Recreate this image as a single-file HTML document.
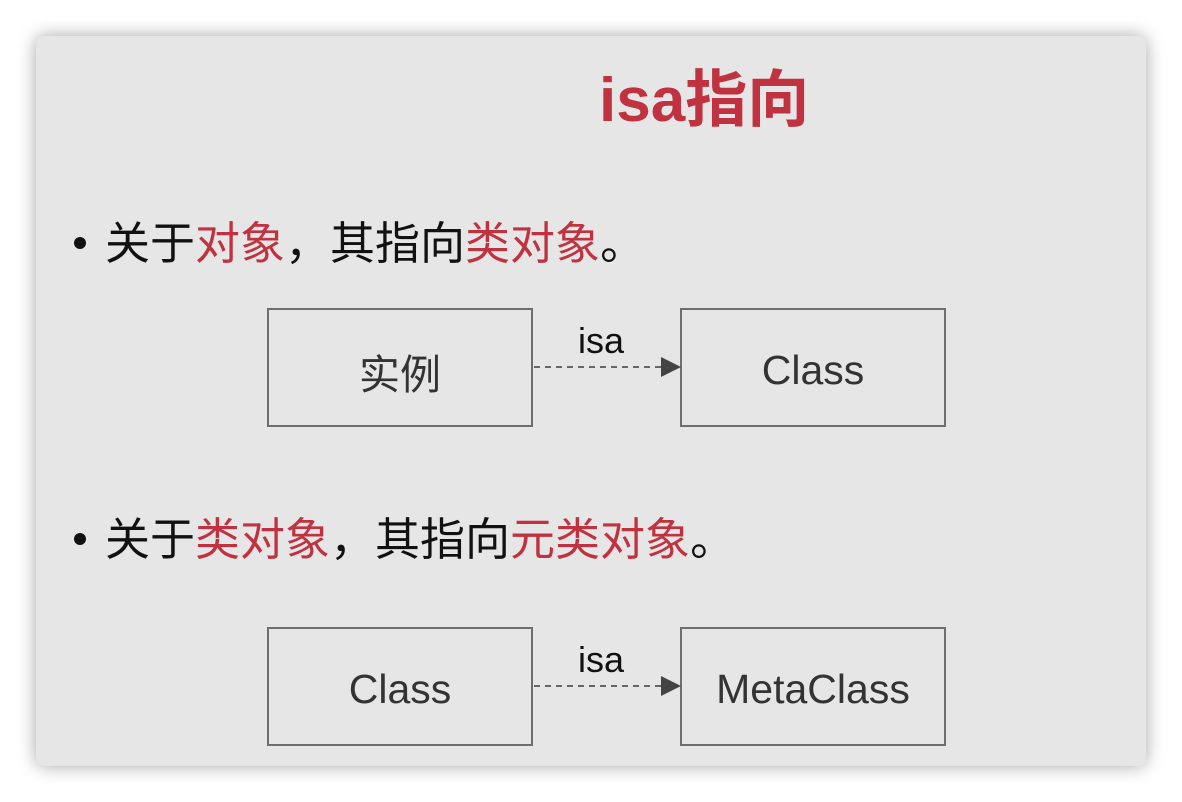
<!DOCTYPE html>
<html><head><meta charset="utf-8"><style>
html,body{margin:0;padding:0;width:1182px;height:802px;background:#fff;overflow:hidden;font-family:"Liberation Sans","Noto Sans CJK SC",sans-serif}
.panel{position:absolute;left:36px;top:36px;width:1110px;height:730px;background:#e6e6e6;border-radius:8px;box-shadow:0 0 18px rgba(0,0,0,0.35)}
.t{position:absolute;white-space:nowrap}
.r{color:#c0323f}
.box{position:absolute;border:2px solid #6e6e6e;box-sizing:border-box;width:266px;height:119px;display:flex;align-items:center;justify-content:center;font-size:41px;color:#333;padding-top:6px}
.dot{position:absolute;width:12px;height:12px;border-radius:50%;background:#111}
</style></head><body>
<div class="panel"></div>
<div class="t r" style="left:599px;top:64px;font-size:62px;font-weight:bold;line-height:74px">isa指向</div>
<div class="dot" style="left:74px;top:237px"></div>
<div class="dot" style="left:74px;top:533px"></div>
<div class="t" style="left:105px;top:216px;font-size:45px;line-height:56px;color:#111">关于<span class="r">对象</span>，其指向<span class="r">类对象</span>。</div>
<div class="t" style="left:105px;top:512px;font-size:45px;line-height:56px;color:#111">关于<span class="r">类对象</span>，其指向<span class="r">元类对象</span>。</div>
<div class="box" style="left:267px;top:308px">实例</div>
<div class="box" style="left:680px;top:308px">Class</div>
<div class="box" style="left:267px;top:627px">Class</div>
<div class="box" style="left:680px;top:627px">MetaClass</div>
<div class="t" style="left:578px;top:320px;font-size:36px;color:#111">isa</div>
<div class="t" style="left:578px;top:639px;font-size:36px;color:#111">isa</div>
<svg width="1182" height="802" style="position:absolute;left:0;top:0">
<line x1="534" y1="367" x2="662" y2="367" stroke="#666" stroke-width="2" stroke-dasharray="6,5"/>
<polygon points="661,357 681,367 661,377" fill="#444"/>
<line x1="534" y1="686" x2="662" y2="686" stroke="#666" stroke-width="2" stroke-dasharray="6,5"/>
<polygon points="661,676 681,686 661,696" fill="#444"/>
</svg>
</body></html>
